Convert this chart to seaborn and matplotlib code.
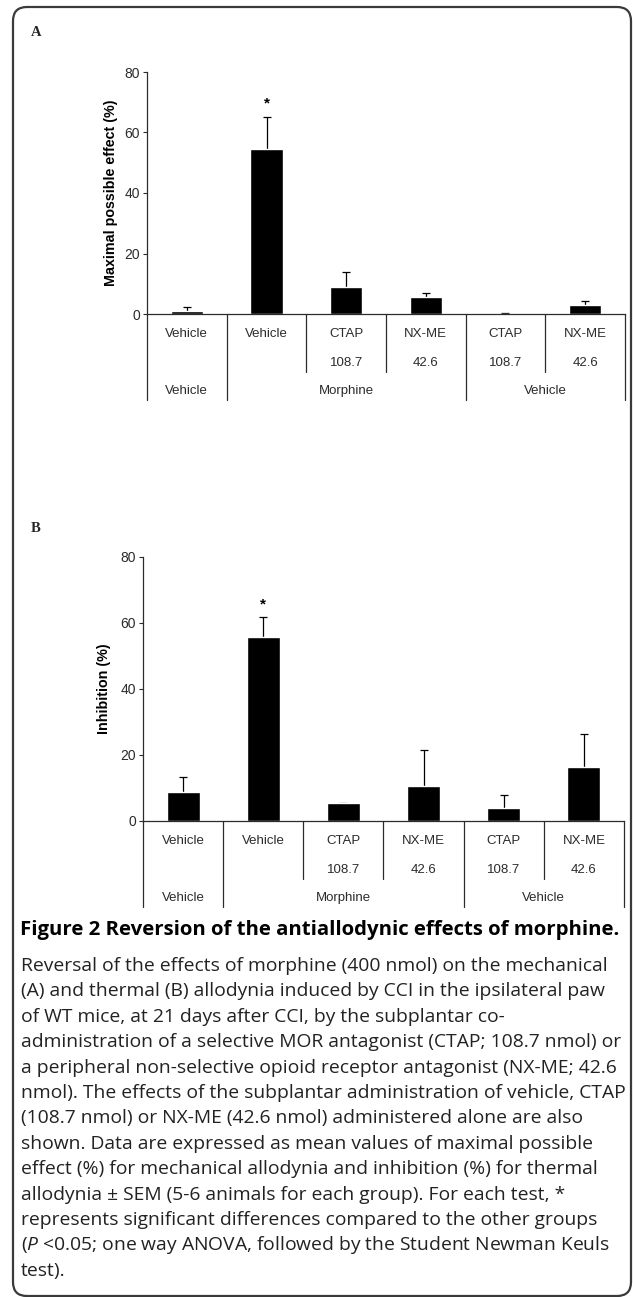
import matplotlib
matplotlib.use("Agg")
import matplotlib.pyplot as plt
import matplotlib.transforms as mtransforms
from matplotlib.patches import FancyBboxPatch
import seaborn as sns
import pandas as pd
import numpy as np

# data
treatment = ["Vehicle", "Vehicle", "CTAP", "NX-ME", "CTAP", "NX-ME"]
dose = ["", "", "108.7", "42.6", "108.7", "42.6"]
pretreatment = ["Vehicle", "Morphine", "Vehicle"]
pretreatment_cols = [(0, 0), (1, 3), (4, 5)]

mpe_mean = [1.0, 54.6, 8.8, 5.7, 0.1, 3.0]
mpe_sem = [1.4, 10.6, 5.0, 1.4, 0.35, 1.3]
inh_mean = [8.7, 55.8, 5.4, 10.6, 3.8, 16.3]
inh_sem = [4.7, 5.9, 0.2, 10.8, 4.1, 10.0]
significant = [False, True, False, False, False, False]

caption_title = "Figure 2 Reversion of the antiallodynic effects of morphine."
caption_lines = [
    "Reversal of the effects of morphine (400 nmol) on the mechanical",
    "(A) and thermal (B) allodynia induced by CCI in the ipsilateral paw",
    "of WT mice, at 21 days after CCI, by the subplantar co-",
    "administration of a selective MOR antagonist (CTAP; 108.7 nmol) or",
    "a peripheral non-selective opioid receptor antagonist (NX-ME; 42.6",
    "nmol). The effects of the subplantar administration of vehicle, CTAP",
    "(108.7 nmol) or NX-ME (42.6 nmol) administered alone are also",
    "shown. Data are expressed as mean values of maximal possible",
    "effect (%) for mechanical allodynia and inhibition (%) for thermal",
    "allodynia \u00b1 SEM (5-6 animals for each group). For each test, *",
    "represents significant differences compared to the other groups",
    r"($\mathit{P}$ <0.05; one way ANOVA, followed by the Student Newman Keuls",
    "test).",
]

sns.set_style("white")
plt.rcParams["font.family"] = ["Liberation Sans", "DejaVu Sans"]
plt.rcParams["mathtext.fontset"] = "custom"
plt.rcParams["mathtext.rm"] = "Open Sans"
plt.rcParams["mathtext.it"] = "Open Sans:italic"

W, H = 633, 1297
fig = plt.figure(figsize=(W / 100, H / 100), dpi=100)
fig.patch.set_facecolor("white")


def px_rect(l, t, r, b):
    return [l / W, 1 - b / H, (r - l) / W, (b - t) / H]


# page overlay in pixel coordinates (border, panel letters, caption)
page = fig.add_axes([0, 0, 1, 1], zorder=0)
page.set_xlim(0, W)
page.set_ylim(H, 0)
page.axis("off")
page.add_patch(FancyBboxPatch((13, 7), 618, 1289, boxstyle="round,pad=0,rounding_size=14",
                              fill=False, lw=1.6, ec="#3a3a3a"))
page.text(36, 33, "A", fontsize=10.5, fontweight="bold", family="Liberation Serif", ha="center", va="center")
page.text(36, 529, "B", fontsize=10.5, fontweight="bold", family="Liberation Serif", ha="center", va="center")

ink = "#2b2b2b"
groups = [f"{t} {d} {i}" for i, (t, d) in enumerate(zip(treatment, dose))]


def draw_panel(rect, means, sems, ylabel, label_x):
    ax = fig.add_axes(px_rect(*rect), zorder=2)
    df = pd.DataFrame({"group": groups, "value": means})
    sns.barplot(data=df, x="group", y="value", color="black", width=0.41,
                errorbar=None, saturation=1, ax=ax, zorder=2)
    # SEM whiskers sit behind the bars so only the upper half shows
    ax.errorbar(np.arange(len(means)), means, yerr=sems, fmt="none", ecolor="black",
                elinewidth=0.9, capsize=2.6, capthick=0.9, zorder=1)
    ax.set_xlim(-0.5, len(means) - 0.5)
    ax.set_ylim(0, 80)
    ax.set_yticks([0, 20, 40, 60, 80])
    ax.tick_params(axis="y", direction="out", length=3, width=0.8, color=ink,
                   labelsize=10, labelcolor=ink, pad=2, left=True)
    ax.set_xticks([])
    ax.set_xlabel("")
    ax.set_ylabel(ylabel, fontsize=10.3, fontweight="bold", color="black")
    ax.yaxis.set_label_coords(label_x, 0.5)
    for s in ["top", "right"]:
        ax.spines[s].set_visible(False)
    for s in ["left", "bottom"]:
        ax.spines[s].set_color(ink)
        ax.spines[s].set_linewidth(0.9)
        ax.spines[s].set_zorder(3)

    h_px = rect[3] - rect[1]
    tr = mtransforms.blended_transform_factory(ax.transData, ax.transAxes)

    def fy(px):
        return -px / h_px

    # table below the bars
    n = len(means)
    full = {-0.5, 0.5, 3.5, n - 0.5}
    for b in np.arange(-0.5, n, 1.0):
        end = 86 if b in full else 58
        ax.plot([b, b], [0, fy(end)], transform=tr, color=ink, lw=0.9, clip_on=False)
    for i in range(n):
        ax.text(i, fy(20), treatment[i], transform=tr, ha="center", va="center",
                fontsize=9.5, color=ink)
        if dose[i]:
            ax.text(i, fy(49), dose[i], transform=tr, ha="center", va="center",
                    fontsize=9.5, color=ink)
    for name, (a, b) in zip(pretreatment, pretreatment_cols):
        ax.text((a + b) / 2, fy(77), name, transform=tr, ha="center", va="center",
                fontsize=9.5, color=ink)

    # significance marks
    for i, sig in enumerate(significant):
        if sig:
            off = mtransforms.offset_copy(ax.transData, fig=fig, x=0, y=13, units="dots")
            ax.text(i, means[i] + sems[i], "*", transform=off, ha="center", va="center",
                    fontsize=11, fontweight="bold", color="black")
    return ax


draw_panel((147, 72, 625, 314), mpe_mean, mpe_sem, "Maximal possible effect (%)", -0.06)
draw_panel((143, 557, 624, 821), inh_mean, inh_sem, "Inhibition (%)", -0.066)

# caption, sized so the widest line fits the column
renderer = fig.canvas.get_renderer()
t = page.text(20, 930, caption_title, family="Open Sans", fontweight="bold",
              fontsize=12, ha="left", va="center", color="black")
w = t.get_window_extent(renderer).width
t.set_fontsize(12 * 600 / w)

body = []
y0, dy = 966, 25.4
for k, line in enumerate(caption_lines):
    body.append(page.text(21, y0 + k * dy, line, family="Open Sans", fontsize=12,
                          ha="left", va="center", color="#222222"))
w = max(b.get_window_extent(renderer).width for b in body)
for b in body:
    b.set_fontsize(12 * 600 / w)

fig.savefig("out.png", dpi=100, facecolor="white")
